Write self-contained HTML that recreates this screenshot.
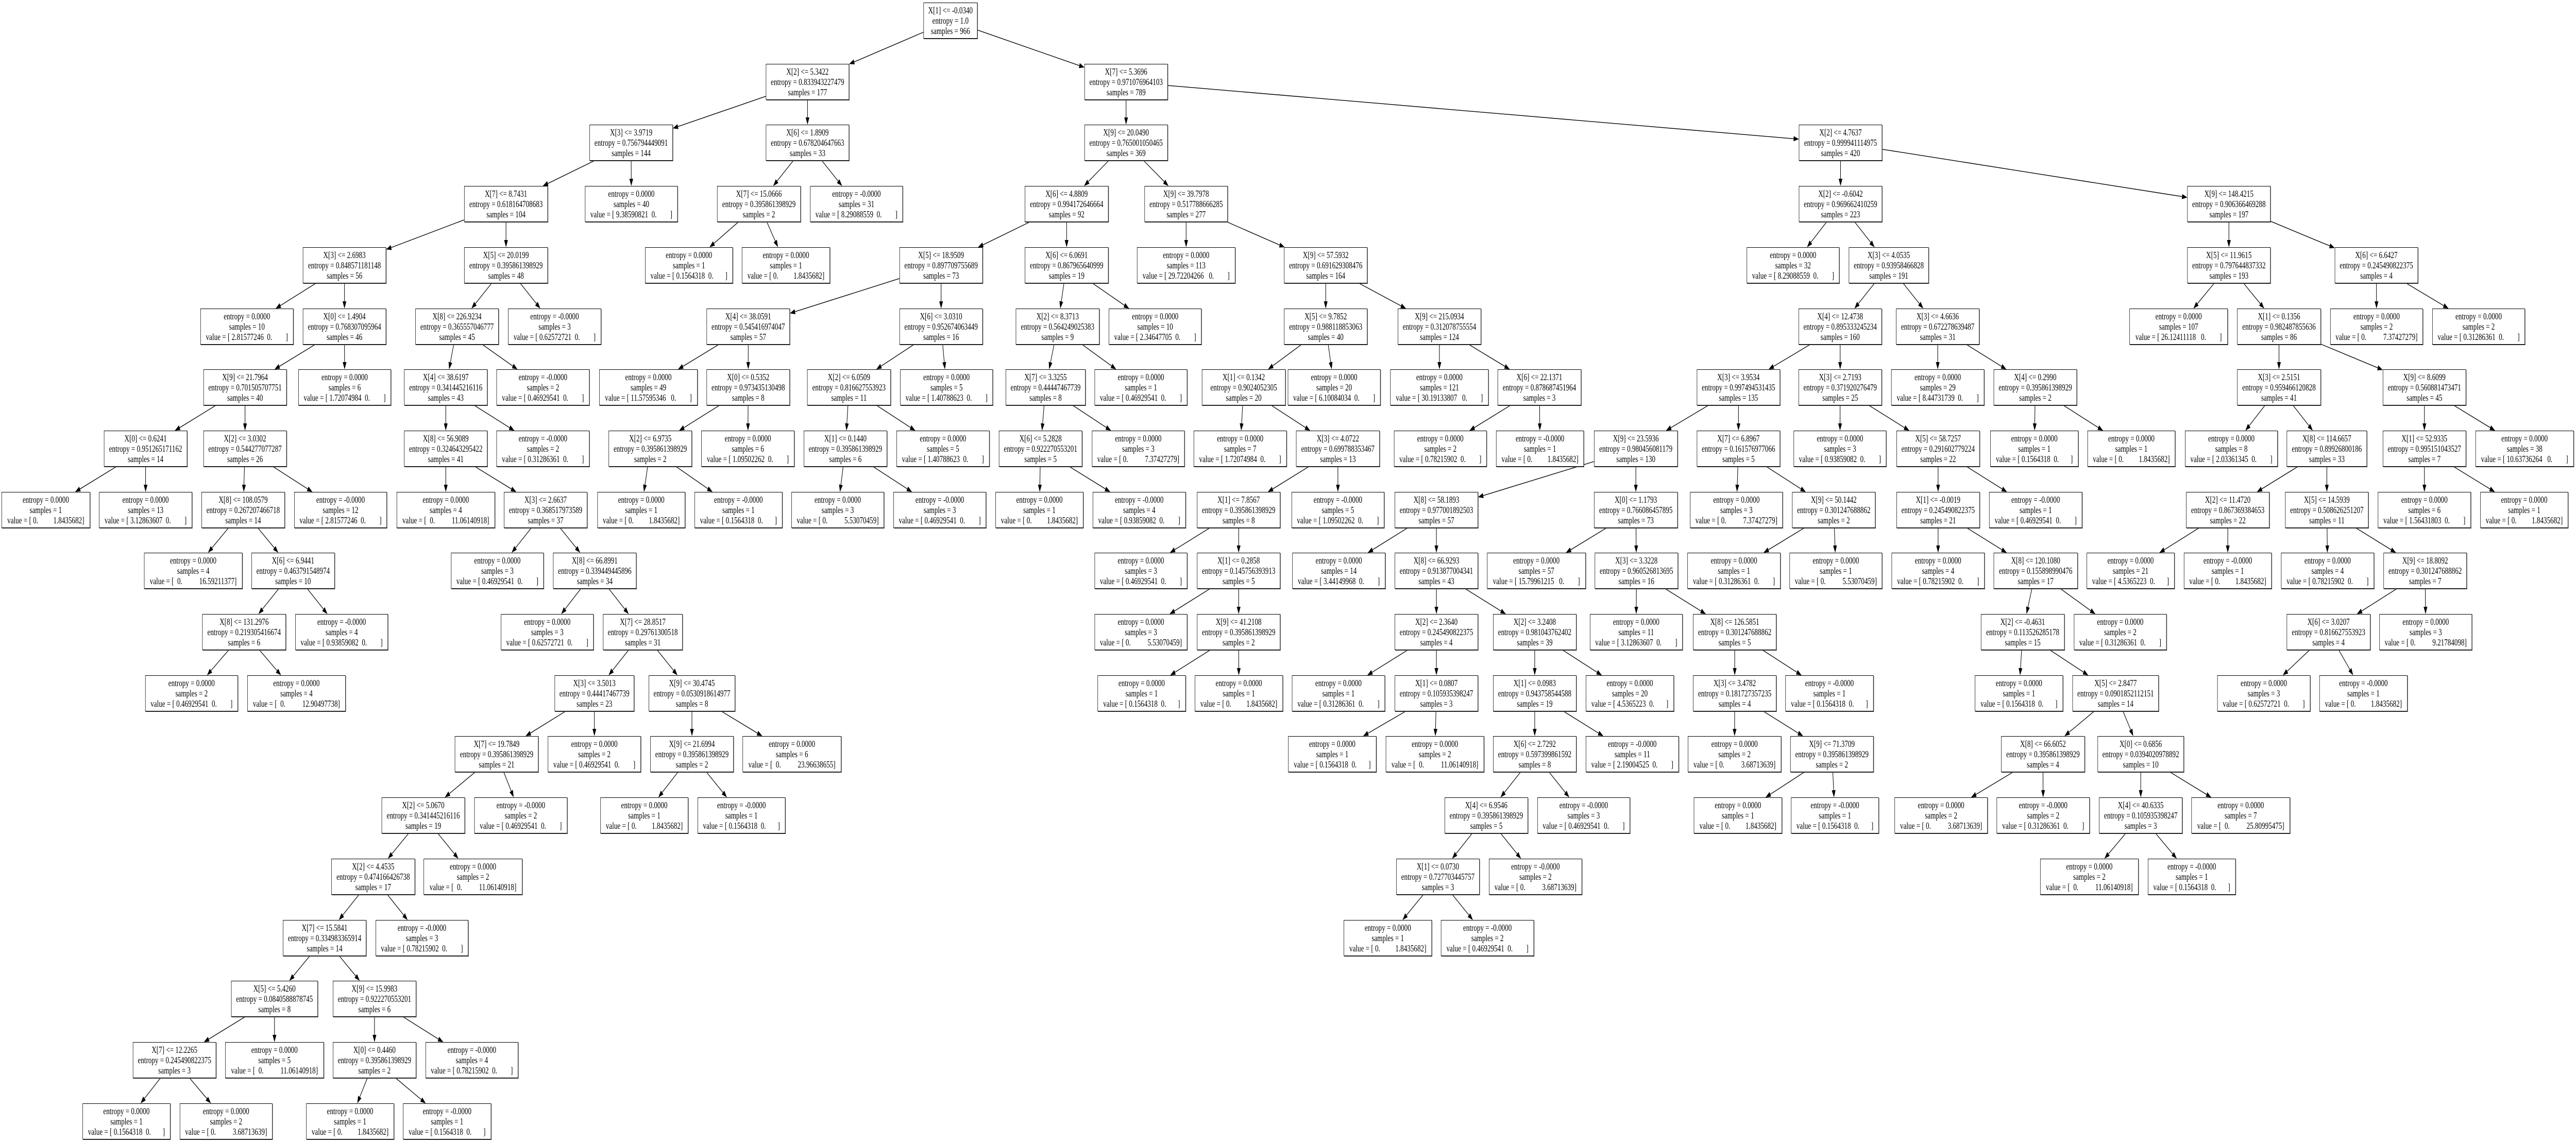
<!DOCTYPE html>
<html><head><meta charset="utf-8">
<style>
html{margin:0;padding:0;background:#fff;overflow:hidden;}
body{margin:0;padding:0;background:#fff;width:6865px;height:2217px;position:relative;overflow:hidden;transform-origin:0 0;}
svg{position:absolute;left:0;top:0;}
.n{position:absolute;height:70px;box-sizing:border-box;border:1px solid #000;box-shadow:1px 1px 0 #444;background:#fff;
font:18px/20px "Liberation Serif",serif;text-align:center;white-space:pre;padding-top:4px;overflow:hidden;color:#000;z-index:2}
.L0{top:5px}.L1{top:124px}.L2{top:242px}.L3{top:361px}.L4{top:480px}.L5{top:599px}.L6{top:717px}.L7{top:836px}.L8{top:955px}
.L9{top:1073px}.L10{top:1192px}.L11{top:1311px}.L12{top:1429px}.L13{top:1548px}.L14{top:1667px}.L15{top:1786px}.L16{top:1904px}.L17{top:2023px}.L18{top:2142px}
</style></head><body>
<svg id="sv" width="6865" height="2217" viewBox="0 0 6865 2217"></svg>

<div class="n L0" id="a0" style="left:2461px;width:144px">X[1] &lt;= -0.0340
entropy = 1.0
samples = 966</div>
<div class="n L1" id="a1" style="left:2041px;width:222px">X[2] &lt;= 5.3422
entropy = 0.833943227479
samples = 177</div>
<div class="n L2" id="a2" style="left:1571px;width:222px">X[3] &lt;= 3.9719
entropy = 0.756794449091
samples = 144</div>
<div class="n L2" id="a3" style="left:2041px;width:222px">X[6] &lt;= 1.8909
entropy = 0.678204647663
samples = 33</div>
<div class="n L3" id="a4" style="left:1237px;width:223px">X[7] &lt;= 8.7431
entropy = 0.618164708683
samples = 104</div>
<div class="n L3" id="a5" style="left:1559px;width:247px">entropy = 0.0000
samples = 40
value = [ 9.38590821  0.        ]</div>
<div class="n L3" id="a6" style="left:1911px;width:223px">X[7] &lt;= 15.0666
entropy = 0.395861398929
samples = 2</div>
<div class="n L3" id="a7" style="left:2159px;width:247px">entropy = -0.0000
samples = 31
value = [ 8.29088559  0.        ]</div>
<div class="n L4" id="a8" style="left:1719px;width:234px">entropy = 0.0000
samples = 1
value = [ 0.1564318  0.       ]</div>
<div class="n L4" id="a9" style="left:1977px;width:235px">entropy = 0.0000
samples = 1
value = [ 0.         1.8435682]</div>
<div class="n L4" id="a10" style="left:807px;width:222px">X[3] &lt;= 2.6983
entropy = 0.848571181148
samples = 56</div>
<div class="n L4" id="a11" style="left:1237px;width:223px">X[5] &lt;= 20.0199
entropy = 0.395861398929
samples = 48</div>
<div class="n L5" id="a12" style="left:534px;width:248px">entropy = 0.0000
samples = 10
value = [ 2.81577246  0.        ]</div>
<div class="n L5" id="a13" style="left:807px;width:222px">X[0] &lt;= 1.4904
entropy = 0.768307095964
samples = 46</div>
<div class="n L5" id="a14" style="left:1107px;width:222px">X[8] &lt;= 226.9234
entropy = 0.365557046777
samples = 45</div>
<div class="n L5" id="a15" style="left:1354px;width:248px">entropy = -0.0000
samples = 3
value = [ 0.62572721  0.        ]</div>
<div class="n L6" id="a16" style="left:542px;width:222px">X[9] &lt;= 21.7964
entropy = 0.701505707751
samples = 40</div>
<div class="n L6" id="a17" style="left:795px;width:247px">entropy = 0.0000
samples = 6
value = [ 1.72074984  0.        ]</div>
<div class="n L6" id="a18" style="left:1077px;width:222px">X[4] &lt;= 38.6197
entropy = 0.341445216116
samples = 43</div>
<div class="n L6" id="a19" style="left:1323px;width:248px">entropy = -0.0000
samples = 2
value = [ 0.46929541  0.        ]</div>
<div class="n L7" id="a20" style="left:277px;width:222px">X[0] &lt;= 0.6241
entropy = 0.951265171162
samples = 14</div>
<div class="n L7" id="a21" style="left:542px;width:222px">X[2] &lt;= 3.0302
entropy = 0.544277077287
samples = 26</div>
<div class="n L7" id="a22" style="left:1077px;width:222px">X[8] &lt;= 56.9089
entropy = 0.324643295422
samples = 41</div>
<div class="n L7" id="a23" style="left:1323px;width:248px">entropy = -0.0000
samples = 2
value = [ 0.31286361  0.        ]</div>
<div class="n L8" id="a24" style="left:4px;width:236px">entropy = 0.0000
samples = 1
value = [ 0.         1.8435682]</div>
<div class="n L8" id="a25" style="left:264px;width:248px">entropy = 0.0000
samples = 13
value = [ 3.12863607  0.        ]</div>
<div class="n L8" id="a26" style="left:537px;width:222px">X[8] &lt;= 108.0579
entropy = 0.267207466718
samples = 14</div>
<div class="n L8" id="a27" style="left:784px;width:247px">entropy = -0.0000
samples = 12
value = [ 2.81577246  0.        ]</div>
<div class="n L8" id="a28" style="left:1057px;width:262px">entropy = 0.0000
samples = 4
value = [  0.          11.06140918]</div>
<div class="n L8" id="a29" style="left:1343px;width:222px">X[3] &lt;= 2.6637
entropy = 0.368517973589
samples = 37</div>
<div class="n L9" id="a30" style="left:384px;width:262px">entropy = 0.0000
samples = 4
value = [  0.          16.59211377]</div>
<div class="n L9" id="a31" style="left:670px;width:222px">X[6] &lt;= 6.9441
entropy = 0.463791548974
samples = 10</div>
<div class="n L9" id="a32" style="left:1202px;width:247px">entropy = 0.0000
samples = 3
value = [ 0.46929541  0.        ]</div>
<div class="n L9" id="a33" style="left:1474px;width:222px">X[8] &lt;= 66.8991
entropy = 0.339449445896
samples = 34</div>
<div class="n L10" id="a34" style="left:539px;width:223px">X[8] &lt;= 131.2976
entropy = 0.219305416674
samples = 6</div>
<div class="n L10" id="a35" style="left:787px;width:247px">entropy = -0.0000
samples = 4
value = [ 0.93859082  0.        ]</div>
<div class="n L10" id="a36" style="left:1335px;width:247px">entropy = 0.0000
samples = 3
value = [ 0.62572721  0.        ]</div>
<div class="n L10" id="a37" style="left:1607px;width:212px">X[7] &lt;= 28.8517
entropy = 0.29761300518
samples = 31</div>
<div class="n L11" id="a38" style="left:387px;width:247px">entropy = 0.0000
samples = 2
value = [ 0.46929541  0.        ]</div>
<div class="n L11" id="a39" style="left:659px;width:262px">entropy = 0.0000
samples = 4
value = [  0.          12.90497738]</div>
<div class="n L11" id="a40" style="left:1478px;width:212px">X[3] &lt;= 3.5013
entropy = 0.44417467739
samples = 23</div>
<div class="n L11" id="a41" style="left:1729px;width:230px">X[9] &lt;= 30.4745
entropy = 0.0530918614977
samples = 8</div>
<div class="n L12" id="a42" style="left:1212px;width:223px">X[7] &lt;= 19.7849
entropy = 0.395861398929
samples = 21</div>
<div class="n L12" id="a43" style="left:1460px;width:248px">entropy = 0.0000
samples = 2
value = [ 0.46929541  0.        ]</div>
<div class="n L12" id="a44" style="left:1733px;width:222px">X[9] &lt;= 21.6994
entropy = 0.395861398929
samples = 2</div>
<div class="n L12" id="a45" style="left:1979px;width:263px">entropy = 0.0000
samples = 6
value = [  0.          23.96638655]</div>
<div class="n L13" id="a46" style="left:1600px;width:234px">entropy = 0.0000
samples = 1
value = [ 0.         1.8435682]</div>
<div class="n L13" id="a47" style="left:1859px;width:234px">entropy = -0.0000
samples = 1
value = [ 0.1564318  0.       ]</div>
<div class="n L13" id="a48" style="left:1017px;width:222px">X[2] &lt;= 5.0670
entropy = 0.341445216116
samples = 19</div>
<div class="n L13" id="a49" style="left:1264px;width:248px">entropy = -0.0000
samples = 2
value = [ 0.46929541  0.        ]</div>
<div class="n L14" id="a50" style="left:883px;width:223px">X[2] &lt;= 4.4535
entropy = 0.474166426738
samples = 17</div>
<div class="n L14" id="a51" style="left:1129px;width:263px">entropy = 0.0000
samples = 2
value = [  0.          11.06140918]</div>
<div class="n L15" id="a52" style="left:754px;width:222px">X[7] &lt;= 15.5841
entropy = 0.334983365914
samples = 14</div>
<div class="n L15" id="a53" style="left:1001px;width:247px">entropy = -0.0000
samples = 3
value = [ 0.78215902  0.        ]</div>
<div class="n L16" id="a54" style="left:616px;width:231px">X[5] &lt;= 5.4260
entropy = 0.0840588878745
samples = 8</div>
<div class="n L16" id="a55" style="left:887px;width:222px">X[9] &lt;= 15.9983
entropy = 0.922270553201
samples = 6</div>
<div class="n L17" id="a56" style="left:354px;width:222px">X[7] &lt;= 12.2265
entropy = 0.245490822375
samples = 3</div>
<div class="n L17" id="a57" style="left:600px;width:263px">entropy = 0.0000
samples = 5
value = [  0.          11.06140918]</div>
<div class="n L17" id="a58" style="left:887px;width:222px">X[0] &lt;= 0.4460
entropy = 0.395861398929
samples = 2</div>
<div class="n L17" id="a59" style="left:1134px;width:247px">entropy = -0.0000
samples = 4
value = [ 0.78215902  0.        ]</div>
<div class="n L18" id="a60" style="left:220px;width:234px">entropy = 0.0000
samples = 1
value = [ 0.1564318  0.       ]</div>
<div class="n L18" id="a61" style="left:479px;width:247px">entropy = 0.0000
samples = 2
value = [ 0.          3.68713639]</div>
<div class="n L18" id="a62" style="left:816px;width:234px">entropy = 0.0000
samples = 1
value = [ 0.         1.8435682]</div>
<div class="n L18" id="a63" style="left:1074px;width:235px">entropy = -0.0000
samples = 1
value = [ 0.1564318  0.       ]</div>

<div class="n L1" id="b1" style="left:2890px;width:222px">X[7] &lt;= 5.3696
entropy = 0.971076964103
samples = 789</div>
<div class="n L2" id="b2" style="left:2890px;width:222px">X[9] &lt;= 20.0490
entropy = 0.765001050465
samples = 369</div>
<div class="n L2" id="b3" style="left:4794px;width:222px">X[2] &lt;= 4.7637
entropy = 0.999941114975
samples = 420</div>
<div class="n L3" id="b4" style="left:2731px;width:223px">X[6] &lt;= 4.8809
entropy = 0.994172646664
samples = 92</div>
<div class="n L3" id="b5" style="left:3050px;width:222px">X[9] &lt;= 39.7978
entropy = 0.517788666285
samples = 277</div>
<div class="n L4" id="b6" style="left:2397px;width:222px">X[5] &lt;= 18.9509
entropy = 0.897709755689
samples = 73</div>
<div class="n L4" id="b7" style="left:2731px;width:223px">X[6] &lt;= 6.0691
entropy = 0.867965640999
samples = 19</div>
<div class="n L5" id="b8" style="left:1883px;width:222px">X[4] &lt;= 38.0591
entropy = 0.545416974047
samples = 57</div>
<div class="n L5" id="b9" style="left:2397px;width:222px">X[6] &lt;= 3.0310
entropy = 0.952674063449
samples = 16</div>
<div class="n L6" id="b10" style="left:1597px;width:262px">entropy = 0.0000
samples = 49
value = [ 11.57595346   0.        ]</div>
<div class="n L6" id="b11" style="left:1883px;width:222px">X[0] &lt;= 0.5352
entropy = 0.973435130498
samples = 8</div>
<div class="n L7" id="b12" style="left:1622px;width:222px">X[2] &lt;= 6.9735
entropy = 0.395861398929
samples = 2</div>
<div class="n L7" id="b13" style="left:1869px;width:248px">entropy = 0.0000
samples = 6
value = [ 1.09502262  0.        ]</div>
<div class="n L8" id="b14" style="left:1592px;width:234px">entropy = 0.0000
samples = 1
value = [ 0.         1.8435682]</div>
<div class="n L8" id="b15" style="left:1851px;width:234px">entropy = -0.0000
samples = 1
value = [ 0.1564318  0.       ]</div>
<div class="n L6" id="b16" style="left:2151px;width:223px">X[2] &lt;= 6.0509
entropy = 0.816627553923
samples = 11</div>
<div class="n L6" id="b17" style="left:2399px;width:247px">entropy = 0.0000
samples = 5
value = [ 1.40788623  0.        ]</div>
<div class="n L7" id="b18" style="left:2142px;width:222px">X[1] &lt;= 0.1440
entropy = 0.395861398929
samples = 6</div>
<div class="n L7" id="b19" style="left:2389px;width:248px">entropy = 0.0000
samples = 5
value = [ 1.40788623  0.        ]</div>
<div class="n L8" id="b20" style="left:2109px;width:247px">entropy = 0.0000
samples = 3
value = [ 0.          5.53070459]</div>
<div class="n L8" id="b21" style="left:2381px;width:247px">entropy = -0.0000
samples = 3
value = [ 0.46929541  0.        ]</div>
<div class="n L5" id="b22" style="left:2707px;width:223px">X[2] &lt;= 8.3713
entropy = 0.564249025383
samples = 9</div>
<div class="n L5" id="b23" style="left:2955px;width:247px">entropy = 0.0000
samples = 10
value = [ 2.34647705  0.        ]</div>
<div class="n L6" id="b24" style="left:2680px;width:213px">X[7] &lt;= 3.3255
entropy = 0.44447467739
samples = 8</div>
<div class="n L6" id="b25" style="left:2917px;width:247px">entropy = 0.0000
samples = 1
value = [ 0.46929541  0.        ]</div>
<div class="n L7" id="b26" style="left:2662px;width:222px">X[6] &lt;= 5.2828
entropy = 0.922270553201
samples = 5</div>
<div class="n L7" id="b27" style="left:2910px;width:247px">entropy = 0.0000
samples = 3
value = [ 0.          7.37427279]</div>
<div class="n L8" id="b28" style="left:2653px;width:234px">entropy = 0.0000
samples = 1
value = [ 0.         1.8435682]</div>
<div class="n L8" id="b29" style="left:2912px;width:248px">entropy = -0.0000
samples = 4
value = [ 0.93859082  0.        ]</div>
<div class="n L4" id="b30" style="left:3030px;width:262px">entropy = 0.0000
samples = 113
value = [ 29.72204266   0.        ]</div>
<div class="n L4" id="b31" style="left:3422px;width:222px">X[9] &lt;= 57.5932
entropy = 0.691629308476
samples = 164</div>
<div class="n L5" id="b32" style="left:3422px;width:222px">X[5] &lt;= 9.7852
entropy = 0.988118853063
samples = 40</div>
<div class="n L5" id="b33" style="left:3725px;width:222px">X[9] &lt;= 215.0934
entropy = 0.312078755554
samples = 124</div>
<div class="n L6" id="b34" style="left:3203px;width:223px">X[1] &lt;= 0.1342
entropy = 0.9024052305
samples = 20</div>
<div class="n L6" id="b35" style="left:3432px;width:247px">entropy = 0.0000
samples = 20
value = [ 6.10084034  0.        ]</div>
<div class="n L7" id="b36" style="left:3181px;width:248px">entropy = 0.0000
samples = 7
value = [ 1.72074984  0.        ]</div>
<div class="n L7" id="b37" style="left:3454px;width:223px">X[3] &lt;= 4.0722
entropy = 0.699788353467
samples = 13</div>
<div class="n L8" id="b38" style="left:3190px;width:222px">X[1] &lt;= 7.8567
entropy = 0.395861398929
samples = 8</div>
<div class="n L8" id="b39" style="left:3442px;width:247px">entropy = -0.0000
samples = 5
value = [ 1.09502262  0.        ]</div>
<div class="n L9" id="b40" style="left:2917px;width:247px">entropy = 0.0000
samples = 3
value = [ 0.46929541  0.        ]</div>
<div class="n L9" id="b41" style="left:3190px;width:222px">X[1] &lt;= 0.2858
entropy = 0.145756393913
samples = 5</div>
<div class="n L10" id="b42" style="left:2917px;width:247px">entropy = 0.0000
samples = 3
value = [ 0.          5.53070459]</div>
<div class="n L10" id="b43" style="left:3190px;width:222px">X[9] &lt;= 41.2108
entropy = 0.395861398929
samples = 2</div>
<div class="n L11" id="b44" style="left:2925px;width:235px">entropy = 0.0000
samples = 1
value = [ 0.1564318  0.       ]</div>
<div class="n L11" id="b45" style="left:3184px;width:235px">entropy = 0.0000
samples = 1
value = [ 0.         1.8435682]</div>
<div class="n L6" id="b46" style="left:3705px;width:262px">entropy = 0.0000
samples = 121
value = [ 30.19133807   0.        ]</div>
<div class="n L6" id="b47" style="left:3991px;width:223px">X[6] &lt;= 22.1371
entropy = 0.878687451964
samples = 3</div>
<div class="n L7" id="b48" style="left:3715px;width:247px">entropy = 0.0000
samples = 2
value = [ 0.78215902  0.        ]</div>
<div class="n L7" id="b49" style="left:3987px;width:234px">entropy = -0.0000
samples = 1
value = [ 0.         1.8435682]</div>
<div class="n L3" id="b50" style="left:4794px;width:222px">X[2] &lt;= -0.6042
entropy = 0.969662410259
samples = 223</div>
<div class="n L4" id="b51" style="left:4655px;width:247px">entropy = 0.0000
samples = 32
value = [ 8.29088559  0.        ]</div>
<div class="n L4" id="b52" style="left:4927px;width:213px">X[3] &lt;= 4.0535
entropy = 0.93958466828
samples = 191</div>
<div class="n L5" id="b53" style="left:4793px;width:222px">X[4] &lt;= 12.4738
entropy = 0.895333245234
samples = 160</div>
<div class="n L5" id="b54" style="left:5053px;width:222px">X[3] &lt;= 4.6636
entropy = 0.672278639487
samples = 31</div>
<div class="n L6" id="b55" style="left:4522px;width:222px">X[3] &lt;= 3.9534
entropy = 0.997494531435
samples = 135</div>
<div class="n L6" id="b56" style="left:4793px;width:222px">X[3] &lt;= 2.7193
entropy = 0.371920276479
samples = 25</div>
<div class="n L7" id="b57" style="left:4248px;width:223px">X[9] &lt;= 23.5936
entropy = 0.980456081179
samples = 130</div>
<div class="n L7" id="b58" style="left:4522px;width:222px">X[7] &lt;= 6.8967
entropy = 0.161576977066
samples = 5</div>
<div class="n L8" id="b59" style="left:3717px;width:222px">X[8] &lt;= 58.1893
entropy = 0.977001892503
samples = 57</div>
<div class="n L8" id="b60" style="left:4248px;width:223px">X[0] &lt;= 1.1793
entropy = 0.766086457895
samples = 73</div>
<div class="n L9" id="b61" style="left:3444px;width:248px">entropy = 0.0000
samples = 14
value = [ 3.44149968  0.        ]</div>
<div class="n L9" id="b62" style="left:3717px;width:222px">X[8] &lt;= 66.9293
entropy = 0.913877004341
samples = 43</div>
<div class="n L10" id="b63" style="left:3717px;width:222px">X[2] &lt;= 2.3640
entropy = 0.245490822375
samples = 4</div>
<div class="n L10" id="b64" style="left:3979px;width:222px">X[2] &lt;= 3.2408
entropy = 0.981043762402
samples = 39</div>
<div class="n L11" id="b65" style="left:3443px;width:248px">entropy = 0.0000
samples = 1
value = [ 0.31286361  0.        ]</div>
<div class="n L11" id="b66" style="left:3717px;width:222px">X[1] &lt;= 0.0807
entropy = 0.105935398247
samples = 3</div>
<div class="n L12" id="b67" style="left:3433px;width:235px">entropy = 0.0000
samples = 1
value = [ 0.1564318  0.       ]</div>
<div class="n L12" id="b68" style="left:3693px;width:262px">entropy = 0.0000
samples = 2
value = [  0.          11.06140918]</div>
<div class="n L11" id="b69" style="left:3979px;width:222px">X[1] &lt;= 0.0983
entropy = 0.943758544588
samples = 19</div>
<div class="n L11" id="b70" style="left:4226px;width:235px">entropy = 0.0000
samples = 20
value = [ 4.5365223  0.       ]</div>
<div class="n L12" id="b71" style="left:3979px;width:222px">X[6] &lt;= 2.7292
entropy = 0.597399861592
samples = 8</div>
<div class="n L12" id="b72" style="left:4226px;width:248px">entropy = -0.0000
samples = 11
value = [ 2.19004525  0.        ]</div>
<div class="n L13" id="b73" style="left:3850px;width:222px">X[4] &lt;= 6.9546
entropy = 0.395861398929
samples = 5</div>
<div class="n L13" id="b74" style="left:4097px;width:247px">entropy = -0.0000
samples = 3
value = [ 0.46929541  0.        ]</div>
<div class="n L14" id="b75" style="left:3721px;width:222px">X[1] &lt;= 0.0730
entropy = 0.727703445757
samples = 3</div>
<div class="n L14" id="b76" style="left:3968px;width:248px">entropy = -0.0000
samples = 2
value = [ 0.          3.68713639]</div>
<div class="n L15" id="b77" style="left:3581px;width:235px">entropy = 0.0000
samples = 1
value = [ 0.         1.8435682]</div>
<div class="n L15" id="b78" style="left:3840px;width:248px">entropy = -0.0000
samples = 2
value = [ 0.46929541  0.        ]</div>
<div class="n L9" id="b79" style="left:3963px;width:263px">entropy = 0.0000
samples = 57
value = [ 15.79961215   0.        ]</div>
<div class="n L9" id="b80" style="left:4250px;width:222px">X[3] &lt;= 3.3228
entropy = 0.960526813695
samples = 16</div>
<div class="n L10" id="b81" style="left:4237px;width:247px">entropy = 0.0000
samples = 11
value = [ 3.12863607  0.        ]</div>
<div class="n L10" id="b82" style="left:4512px;width:222px">X[8] &lt;= 126.5851
entropy = 0.301247688862
samples = 5</div>
<div class="n L11" id="b83" style="left:4512px;width:222px">X[3] &lt;= 3.4782
entropy = 0.181727357235
samples = 4</div>
<div class="n L11" id="b84" style="left:4758px;width:235px">entropy = -0.0000
samples = 1
value = [ 0.1564318  0.       ]</div>
<div class="n L12" id="b85" style="left:4498px;width:249px">entropy = 0.0000
samples = 2
value = [ 0.          3.68713639]</div>
<div class="n L12" id="b86" style="left:4771px;width:222px">X[9] &lt;= 71.3709
entropy = 0.395861398929
samples = 2</div>
<div class="n L13" id="b87" style="left:4514px;width:235px">entropy = 0.0000
samples = 1
value = [ 0.         1.8435682]</div>
<div class="n L13" id="b88" style="left:4773px;width:234px">entropy = -0.0000
samples = 1
value = [ 0.1564318  0.       ]</div>
<div class="n L8" id="b89" style="left:4504px;width:247px">entropy = 0.0000
samples = 3
value = [ 0.          7.37427279]</div>
<div class="n L8" id="b90" style="left:4776px;width:222px">X[9] &lt;= 50.1442
entropy = 0.301247688862
samples = 2</div>
<div class="n L9" id="b91" style="left:4497px;width:248px">entropy = 0.0000
samples = 1
value = [ 0.31286361  0.        ]</div>
<div class="n L9" id="b92" style="left:4769px;width:247px">entropy = 0.0000
samples = 1
value = [ 0.          5.53070459]</div>
<div class="n L7" id="b93" style="left:4780px;width:247px">entropy = 0.0000
samples = 3
value = [ 0.93859082  0.        ]</div>
<div class="n L7" id="b94" style="left:5054px;width:222px">X[5] &lt;= 58.7257
entropy = 0.291602779224
samples = 22</div>
<div class="n L8" id="b95" style="left:5054px;width:222px">X[1] &lt;= -0.0019
entropy = 0.245490822375
samples = 21</div>
<div class="n L8" id="b96" style="left:5301px;width:248px">entropy = -0.0000
samples = 1
value = [ 0.46929541  0.        ]</div>
<div class="n L9" id="b97" style="left:5041px;width:248px">entropy = 0.0000
samples = 4
value = [ 0.78215902  0.        ]</div>
<div class="n L9" id="b98" style="left:5313px;width:224px">X[8] &lt;= 120.1080
entropy = 0.155898990476
samples = 17</div>
<div class="n L10" id="b99" style="left:5279px;width:223px">X[2] &lt;= -0.4631
entropy = 0.113526285178
samples = 15</div>
<div class="n L10" id="b100" style="left:5527px;width:247px">entropy = 0.0000
samples = 2
value = [ 0.31286361  0.        ]</div>
<div class="n L11" id="b101" style="left:5263px;width:235px">entropy = 0.0000
samples = 1
value = [ 0.1564318  0.       ]</div>
<div class="n L11" id="b102" style="left:5523px;width:230px">X[5] &lt;= 2.8477
entropy = 0.0901852112151
samples = 14</div>
<div class="n L12" id="b103" style="left:5333px;width:223px">X[8] &lt;= 66.6052
entropy = 0.395861398929
samples = 4</div>
<div class="n L12" id="b104" style="left:5590px;width:230px">X[0] &lt;= 0.6856
entropy = 0.0394020978892
samples = 10</div>
<div class="n L13" id="b105" style="left:5049px;width:248px">entropy = 0.0000
samples = 2
value = [ 0.          3.68713639]</div>
<div class="n L13" id="b106" style="left:5321px;width:248px">entropy = -0.0000
samples = 2
value = [ 0.31286361  0.        ]</div>
<div class="n L13" id="b107" style="left:5594px;width:222px">X[4] &lt;= 40.6335
entropy = 0.105935398247
samples = 3</div>
<div class="n L13" id="b108" style="left:5840px;width:263px">entropy = 0.0000
samples = 7
value = [  0.          25.80995475]</div>
<div class="n L14" id="b109" style="left:5437px;width:262px">entropy = 0.0000
samples = 2
value = [  0.          11.06140918]</div>
<div class="n L14" id="b110" style="left:5724px;width:234px">entropy = -0.0000
samples = 1
value = [ 0.1564318  0.       ]</div>
<div class="n L6" id="b111" style="left:5040px;width:248px">entropy = 0.0000
samples = 29
value = [ 8.44731739  0.        ]</div>
<div class="n L6" id="b112" style="left:5313px;width:222px">X[4] &lt;= 0.2990
entropy = 0.395861398929
samples = 2</div>
<div class="n L7" id="b113" style="left:5304px;width:235px">entropy = 0.0000
samples = 1
value = [ 0.1564318  0.       ]</div>
<div class="n L7" id="b114" style="left:5563px;width:234px">entropy = 0.0000
samples = 1
value = [ 0.         1.8435682]</div>
<div class="n L3" id="b115" style="left:5829px;width:222px">X[9] &lt;= 148.4215
entropy = 0.906366469288
samples = 197</div>
<div class="n L4" id="b116" style="left:5829px;width:222px">X[5] &lt;= 11.9615
entropy = 0.797644837332
samples = 193</div>
<div class="n L4" id="b117" style="left:6222px;width:222px">X[6] &lt;= 6.6427
entropy = 0.245490822375
samples = 4</div>
<div class="n L5" id="b118" style="left:5675px;width:262px">entropy = 0.0000
samples = 107
value = [ 26.12411118   0.        ]</div>
<div class="n L5" id="b119" style="left:5962px;width:223px">X[1] &lt;= 0.1356
entropy = 0.982487855636
samples = 86</div>
<div class="n L5" id="b120" style="left:6210px;width:247px">entropy = 0.0000
samples = 2
value = [ 0.          7.37427279]</div>
<div class="n L5" id="b121" style="left:6482px;width:247px">entropy = 0.0000
samples = 2
value = [ 0.31286361  0.        ]</div>
<div class="n L6" id="b122" style="left:5962px;width:223px">X[3] &lt;= 2.5151
entropy = 0.959466120828
samples = 41</div>
<div class="n L6" id="b123" style="left:6350px;width:222px">X[9] &lt;= 8.6099
entropy = 0.560881473471
samples = 45</div>
<div class="n L7" id="b124" style="left:5823px;width:247px">entropy = 0.0000
samples = 8
value = [ 2.03361345  0.        ]</div>
<div class="n L7" id="b125" style="left:6094px;width:214px">X[8] &lt;= 114.6657
entropy = 0.89926800186
samples = 33</div>
<div class="n L8" id="b126" style="left:5826px;width:222px">X[2] &lt;= 11.4720
entropy = 0.867369384653
samples = 22</div>
<div class="n L8" id="b127" style="left:6090px;width:222px">X[5] &lt;= 14.5939
entropy = 0.508626251207
samples = 11</div>
<div class="n L9" id="b128" style="left:5561px;width:234px">entropy = 0.0000
samples = 21
value = [ 4.5365223  0.       ]</div>
<div class="n L9" id="b129" style="left:5820px;width:234px">entropy = -0.0000
samples = 1
value = [ 0.         1.8435682]</div>
<div class="n L9" id="b130" style="left:6079px;width:248px">entropy = 0.0000
samples = 4
value = [ 0.78215902  0.        ]</div>
<div class="n L9" id="b131" style="left:6352px;width:222px">X[9] &lt;= 18.8092
entropy = 0.301247688862
samples = 7</div>
<div class="n L10" id="b132" style="left:6094px;width:223px">X[6] &lt;= 3.0207
entropy = 0.816627553923
samples = 4</div>
<div class="n L10" id="b133" style="left:6341px;width:247px">entropy = 0.0000
samples = 3
value = [ 0.          9.21784098]</div>
<div class="n L11" id="b134" style="left:5909px;width:248px">entropy = 0.0000
samples = 3
value = [ 0.62572721  0.        ]</div>
<div class="n L11" id="b135" style="left:6181px;width:235px">entropy = -0.0000
samples = 1
value = [ 0.         1.8435682]</div>
<div class="n L7" id="b136" style="left:6350px;width:222px">X[1] &lt;= 52.9335
entropy = 0.995151043527
samples = 7</div>
<div class="n L7" id="b137" style="left:6597px;width:262px">entropy = 0.0000
samples = 38
value = [ 10.63736264   0.        ]</div>
<div class="n L8" id="b138" style="left:6337px;width:248px">entropy = 0.0000
samples = 6
value = [ 1.56431803  0.        ]</div>
<div class="n L8" id="b139" style="left:6610px;width:234px">entropy = 0.0000
samples = 1
value = [ 0.         1.8435682]</div>

<script>
(function(){
var E="a0 a1,a1 a2,a1 a3,a2 a4,a2 a5,a3 a6,a3 a7,a6 a8,a6 a9,a4 a10,a4 a11,a10 a12,a10 a13,a13 a16,a13 a17,a16 a20,a16 a21,a20 a24,a20 a25,a21 a26,a21 a27,a26 a30,a26 a31,a31 a34,a31 a35,a34 a38,a34 a39,a11 a14,a11 a15,a14 a18,a14 a19,a18 a22,a18 a23,a22 a28,a22 a29,a29 a32,a29 a33,a33 a36,a33 a37,a37 a40,a37 a41,a40 a42,a40 a43,a41 a44,a41 a45,a44 a46,a44 a47,a42 a48,a42 a49,a48 a50,a48 a51,a50 a52,a50 a53,a52 a54,a52 a55,a54 a56,a54 a57,a55 a58,a55 a59,a56 a60,a56 a61,a58 a62,a58 a63,"+
"a0 b1,b1 b2,b1 b3,b2 b4,b2 b5,b4 b6,b4 b7,b6 b8,b6 b9,b8 b10,b8 b11,b11 b12,b11 b13,b12 b14,b12 b15,b9 b16,b9 b17,b16 b18,b16 b19,b18 b20,b18 b21,b7 b22,b7 b23,b22 b24,b22 b25,b24 b26,b24 b27,b26 b28,b26 b29,b5 b30,b5 b31,b31 b32,b31 b33,b32 b34,b32 b35,b34 b36,b34 b37,b37 b38,b37 b39,b38 b40,b38 b41,b41 b42,b41 b43,b43 b44,b43 b45,b33 b46,b33 b47,b47 b48,b47 b49,b3 b50,b3 b115,b50 b51,b50 b52,b52 b53,b52 b54,b53 b55,b53 b56,b55 b57,b55 b58,b57 b59,b57 b60,b59 b61,b59 b62,b62 b63,b62 b64,b63 b65,b63 b66,b66 b67,b66 b68,b64 b69,b64 b70,b69 b71,b69 b72,b71 b73,b71 b74,b73 b75,b73 b76,b75 b77,b75 b78,b60 b79,b60 b80,b80 b81,b80 b82,b82 b83,b82 b84,b83 b85,b83 b86,b86 b87,b86 b88,b58 b89,b58 b90,b90 b91,b90 b92,b56 b93,b56 b94,b94 b95,b94 b96,b95 b97,b95 b98,b98 b99,b98 b100,b99 b101,b99 b102,b102 b103,b102 b104,b103 b105,b103 b106,b104 b107,b104 b108,b107 b109,b107 b110,b54 b111,b54 b112,b112 b113,b112 b114,b115 b116,b115 b117,b116 b118,b116 b119,b117 b120,b117 b121,b119 b122,b119 b123,b122 b124,b122 b125,b125 b126,b125 b127,b126 b128,b126 b129,b127 b130,b127 b131,b131 b132,b131 b133,b132 b134,b132 b135,b123 b136,b123 b137,b136 b138,b136 b139";
var s="";
function g(id){var e=document.getElementById(id);var l=parseFloat(e.style.left),w=parseFloat(e.style.width);return {x:l+w/2,y:e.offsetTop+35,hw:w/2};}
E.split(",").forEach(function(pr){
 var q=pr.split(" "),p=g(q[0]),c=g(q[1]);
 var dx=c.x-p.x,dy=c.y-p.y,ax=Math.abs(dx)||1e-6;
 var tp=Math.min(35/dy,p.hw/ax),tc=Math.min(35/dy,c.hw/ax);
 var x1=p.x+dx*tp,y1=p.y+dy*tp,x2=c.x-dx*tc,y2=c.y-dy*tc;
 var L=Math.sqrt((x2-x1)*(x2-x1)+(y2-y1)*(y2-y1)),ux=(x2-x1)/L,uy=(y2-y1)/L;
 var bx=x2-ux*14,by=y2-uy*14,px=-uy*5,py=ux*5;
 s+='<line x1="'+x1.toFixed(1)+'" y1="'+y1.toFixed(1)+'" x2="'+bx.toFixed(1)+'" y2="'+by.toFixed(1)+'" stroke="#000" stroke-width="1.4"/>';
 s+='<polygon points="'+x2.toFixed(1)+','+y2.toFixed(1)+' '+(bx+px).toFixed(1)+','+(by+py).toFixed(1)+' '+(bx-px).toFixed(1)+','+(by-py).toFixed(1)+'" fill="#000"/>';
});
document.getElementById("sv").innerHTML=s;
var vw=window.innerWidth||document.documentElement.clientWidth,vh=window.innerHeight||document.documentElement.clientHeight;
if(vw>0&&vh>0&&(vw<6860||vh<2212)){
 var sx=Math.min(1,vw/6865),sy=Math.min(1,vh/2217);
 document.body.style.transform="scale("+sx+","+sy+")";
}
})();
</script>
</body></html>
